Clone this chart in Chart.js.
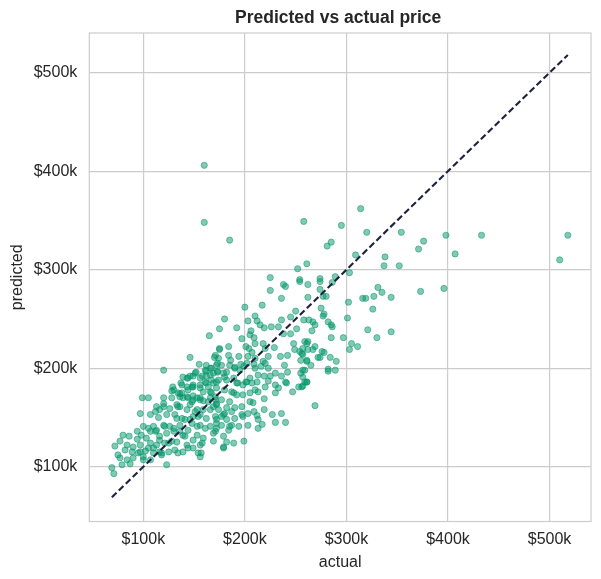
<!DOCTYPE html>
<html>
<head>
<meta charset="utf-8">
<script src="https://cdn.jsdelivr.net/npm/chart.js@4"></script>
<style>
html, body { margin: 0; padding: 0; background: #fff; }
</style>
</head>
<body>
<canvas id="graph" width="601" height="579"></canvas>
<script>
// sale prices in $k (actual on x, predicted on y)
const actual = [
  314, 295, 320, 354, 285, 376, 371, 398, 433, 518, 407, 510, 309, 338, 337, 352, 289, 286, 303, 331,
  327, 335, 319, 344, 373, 396, 302, 326, 301, 285, 286, 321, 344, 297, 330, 285, 305, 311, 303,
  258, 185, 281, 261, 252, 225, 238, 240, 254, 254, 262, 274, 274, 225, 236, 262, 274, 277, 280, 316,
  160, 160,
  217, 200, 180, 175, 192, 203, 210, 212, 215, 206, 205, 209, 219, 226, 236, 233, 250, 245, 245, 251,
  258, 263, 267, 269, 266, 275, 278, 277, 282, 259, 261, 248, 238, 229, 220, 218, 210, 201, 197, 204,
  207, 203, 184, 184, 175, 171, 174, 186, 194, 196, 210, 218, 223, 235, 242, 239, 249, 254, 257, 257,
  261, 255, 269, 274, 278, 284, 259, 255, 257, 242, 236, 240, 223, 230, 225, 219, 213, 210, 220, 216,
  209, 202, 199, 195, 190, 185, 177, 172, 182, 173, 205, 201, 189, 180, 174, 289,
  193, 198, 202, 207, 212, 220, 223, 230, 233, 230, 241, 247, 253, 257, 261, 210, 213, 219, 205, 205,
  208, 198, 192, 187, 180, 177, 185, 182, 197, 190, 172, 174, 187, 180, 177, 172, 197, 203, 209, 212,
  213, 217, 213, 203, 194, 187, 184, 185, 177, 172, 171, 179, 182, 179, 199, 227, 236, 230, 240, 219, 269,
  99, 105, 120, 128, 136, 144, 153, 159, 166, 172, 97, 112, 116, 126, 136, 146, 153, 166, 115, 133,
  141, 149, 156, 162, 171, 94, 100, 105, 110, 120, 126, 136, 148, 156, 166, 172, 80, 86, 94, 98,
  103, 112, 116, 123, 130, 139, 153, 159, 169, 72, 77, 84, 90, 97, 105, 113, 121, 128, 143, 149,
  156, 75, 82, 89, 95, 102, 110, 116, 125, 131, 139, 157, 156, 77, 84, 90, 100, 107, 118, 79,
  87, 123, 69, 71, 100,
  165, 146, 155, 162, 120, 146, 143, 151, 158, 162, 137, 129, 128, 136, 144, 149, 156, 166, 161, 169,
  171, 166, 167,
  175, 170, 173, 152, 161, 166, 169, 173, 139, 144, 149, 156, 162, 167, 172, 138, 143, 149, 156, 164,
  172, 130, 138, 149, 159, 167, 139, 148, 156, 164, 171, 120, 133,
  262, 256, 262, 267, 276, 272, 261, 265, 257, 290, 282, 282, 259, 261, 256,
  148, 162, 134, 143, 149, 156, 113, 120, 134, 143, 151, 159, 169, 107, 123, 131, 138, 146, 154, 107,
  113, 121, 130, 136, 144, 153, 161, 169, 107, 116, 125, 133, 141, 149, 158, 97, 110, 118, 134, 144,
  154, 179, 189, 182, 190, 198, 179, 189, 182, 192, 179, 190
];
const predicted = [
  362, 345, 338, 338, 328, 329, 321, 335, 335, 335, 316, 310, 315, 313, 304, 304, 293, 287, 297, 282,
  273, 277, 271, 272, 278, 281, 267, 260, 251, 244, 242, 239, 237, 231, 231, 231, 225, 222, 219,
  349, 330, 324, 306, 301, 292, 285, 283, 290, 288, 285, 291, 288, 279, 271, 272, 280, 273, 273, 271,
  406, 348,
  264, 262, 250, 240, 241, 248, 253, 248, 244, 238, 234, 231, 241, 242, 249, 242, 258, 252, 235, 240,
  249, 249, 247, 244, 238, 261, 255, 253, 247, 227, 225, 225, 235, 221, 220, 225, 225, 222, 230, 220,
  216, 212, 222, 213, 220, 213, 210, 208, 212, 204, 210, 207, 212, 212, 213, 203, 219, 217, 220, 214,
  208, 208, 222, 211, 216, 211, 198, 195, 191, 196, 192, 186, 200, 195, 192, 192, 193, 200, 205, 202,
  204, 205, 202, 198, 201, 203, 203, 203, 196, 196, 190, 186, 190, 191, 188, 198,
  185, 183, 186, 185, 186, 181, 187, 183, 180, 175, 185, 176, 181, 182, 186, 178, 176, 169, 175, 166,
  165, 173, 173, 176, 178, 168, 166, 160, 161, 160, 164, 158, 156, 154, 151, 148, 153, 154, 156, 152,
  148, 143, 139, 142, 141, 142, 137, 141, 142, 144, 136, 131, 125, 119, 126, 153, 154, 145, 145, 158, 162,
  170, 170, 170, 170, 171, 170, 170, 167, 170, 163, 154, 156, 158, 159, 161, 163, 158, 158, 150, 149,
  148, 151, 153, 149, 151, 136, 141, 139, 141, 142, 141, 142, 144, 142, 141, 139, 132, 131, 128, 132,
  129, 136, 131, 134, 136, 132, 132, 129, 126, 121, 126, 122, 120, 122, 119, 122, 124, 126, 122, 119,
  122, 112, 117, 115, 114, 116, 114, 115, 115, 117, 115, 114, 110, 109, 107, 109, 110, 107, 112, 102,
  103, 102, 99, 93, 107,
  233, 211, 204, 203, 198, 192, 190, 195, 192, 197, 185, 181, 177, 174, 178, 181, 180, 176, 186, 185,
  171, 193, 200,
  219, 211, 205, 196, 198, 200, 195, 197, 191, 190, 192, 190, 192, 188, 186, 183, 181, 183, 183, 181,
  180, 178, 175, 172, 176, 175, 170, 166, 168, 166, 168, 161, 163,
  227, 215, 219, 219, 217, 211, 207, 203, 198, 207, 199, 197, 186, 186, 181,
  181, 185, 175, 171, 168, 170, 161, 164, 161, 158, 156, 158, 161, 153, 153, 153, 149, 148, 151, 136,
  137, 141, 139, 136, 137, 141, 139, 134, 124, 127, 124, 125, 131, 127, 124, 115, 119, 114, 114, 119,
  114, 120, 124, 148, 149, 151, 153, 175, 188, 185, 195, 200
];
const tickValues = [100, 200, 300, 400, 500];
const xRange = [46.8, 540.8];
const yRange = [44.4, 540.3];

const points = actual.map((a, i) => ({ x: a, y: predicted[i] }));
const lo = Math.min(...actual);
const hi = Math.max(...actual);

Chart.defaults.font.family = "'Liberation Sans', Arial, sans-serif";
Chart.defaults.color = '#262626';

const money = v => '$' + v + 'k';
const gridColor = '#cccccc';

// frame around the axes + title centred on the plot area
const framePlugin = {
  id: 'frame',
  beforeDatasetsDraw(chart) {
    const a = chart.chartArea, ctx = chart.ctx;
    ctx.save();
    ctx.strokeStyle = gridColor;
    ctx.lineWidth = 1.2;
    ctx.strokeRect(a.left, a.top, a.right - a.left, a.bottom - a.top);
    ctx.restore();
  },
  afterDraw(chart) {
    const a = chart.chartArea, ctx = chart.ctx;
    ctx.save();
    ctx.font = "bold 17.5px 'Liberation Sans', Arial, sans-serif";
    ctx.fillStyle = '#262626';
    ctx.textAlign = 'center';
    ctx.textBaseline = 'alphabetic';
    ctx.fillText('Predicted vs actual price', (a.left + a.right) / 2 - 2, 23.3);
    ctx.restore();
  }
};

const ctx = document.getElementById('graph').getContext('2d');
const chart = new Chart(ctx, {
  type: 'scatter',
  data: {
    datasets: [
      {
        type: 'line',
        label: 'ideal',
        data: [{ x: lo, y: lo }, { x: hi, y: hi }],
        borderColor: '#1f2040',
        borderWidth: 2.1,
        borderDash: [6.5, 3.2],
        pointRadius: 0,
        fill: false,
        order: 0
      },
      {
        label: 'houses',
        data: points,
        backgroundColor: 'rgba(2, 150, 105, 0.5)',
        borderColor: 'rgba(2, 150, 105, 0.5)',
        borderWidth: 1,
        pointRadius: 3.1,
        order: 1
      }
    ]
  },
  options: {
    responsive: false,
    animation: false,
    layout: { padding: { top: 33, right: 10, left: 0, bottom: 0 } },
    plugins: {
      legend: { display: false },
      tooltip: { enabled: false },
      title: { display: false }
    },
    scales: {
      x: {
        type: 'linear',
        min: xRange[0],
        max: xRange[1],
        afterBuildTicks: s => { s.ticks = tickValues.map(v => ({ value: v })); },
        afterFit: s => { s.height = 57.5; },
        grid: { color: gridColor, lineWidth: 1.2, drawTicks: false },
        border: { display: false },
        ticks: { padding: 8, font: { size: 16 }, callback: money, maxRotation: 0 },
        title: { display: true, text: 'actual', font: { size: 16 }, padding: { top: 0, bottom: 6.7 } }
      },
      y: {
        type: 'linear',
        min: yRange[0],
        max: yRange[1],
        afterBuildTicks: s => { s.ticks = tickValues.map(v => ({ value: v })); },
        afterFit: s => { s.width = 89.3; },
        grid: { color: gridColor, lineWidth: 1.2, drawTicks: false },
        border: { display: false },
        ticks: { padding: 12, font: { size: 16 }, callback: money },
        title: { display: true, text: 'predicted', font: { size: 16 }, padding: { top: 8.4, bottom: 0 } }
      }
    }
  },
  plugins: [framePlugin]
});
</script>
</body>
</html>
